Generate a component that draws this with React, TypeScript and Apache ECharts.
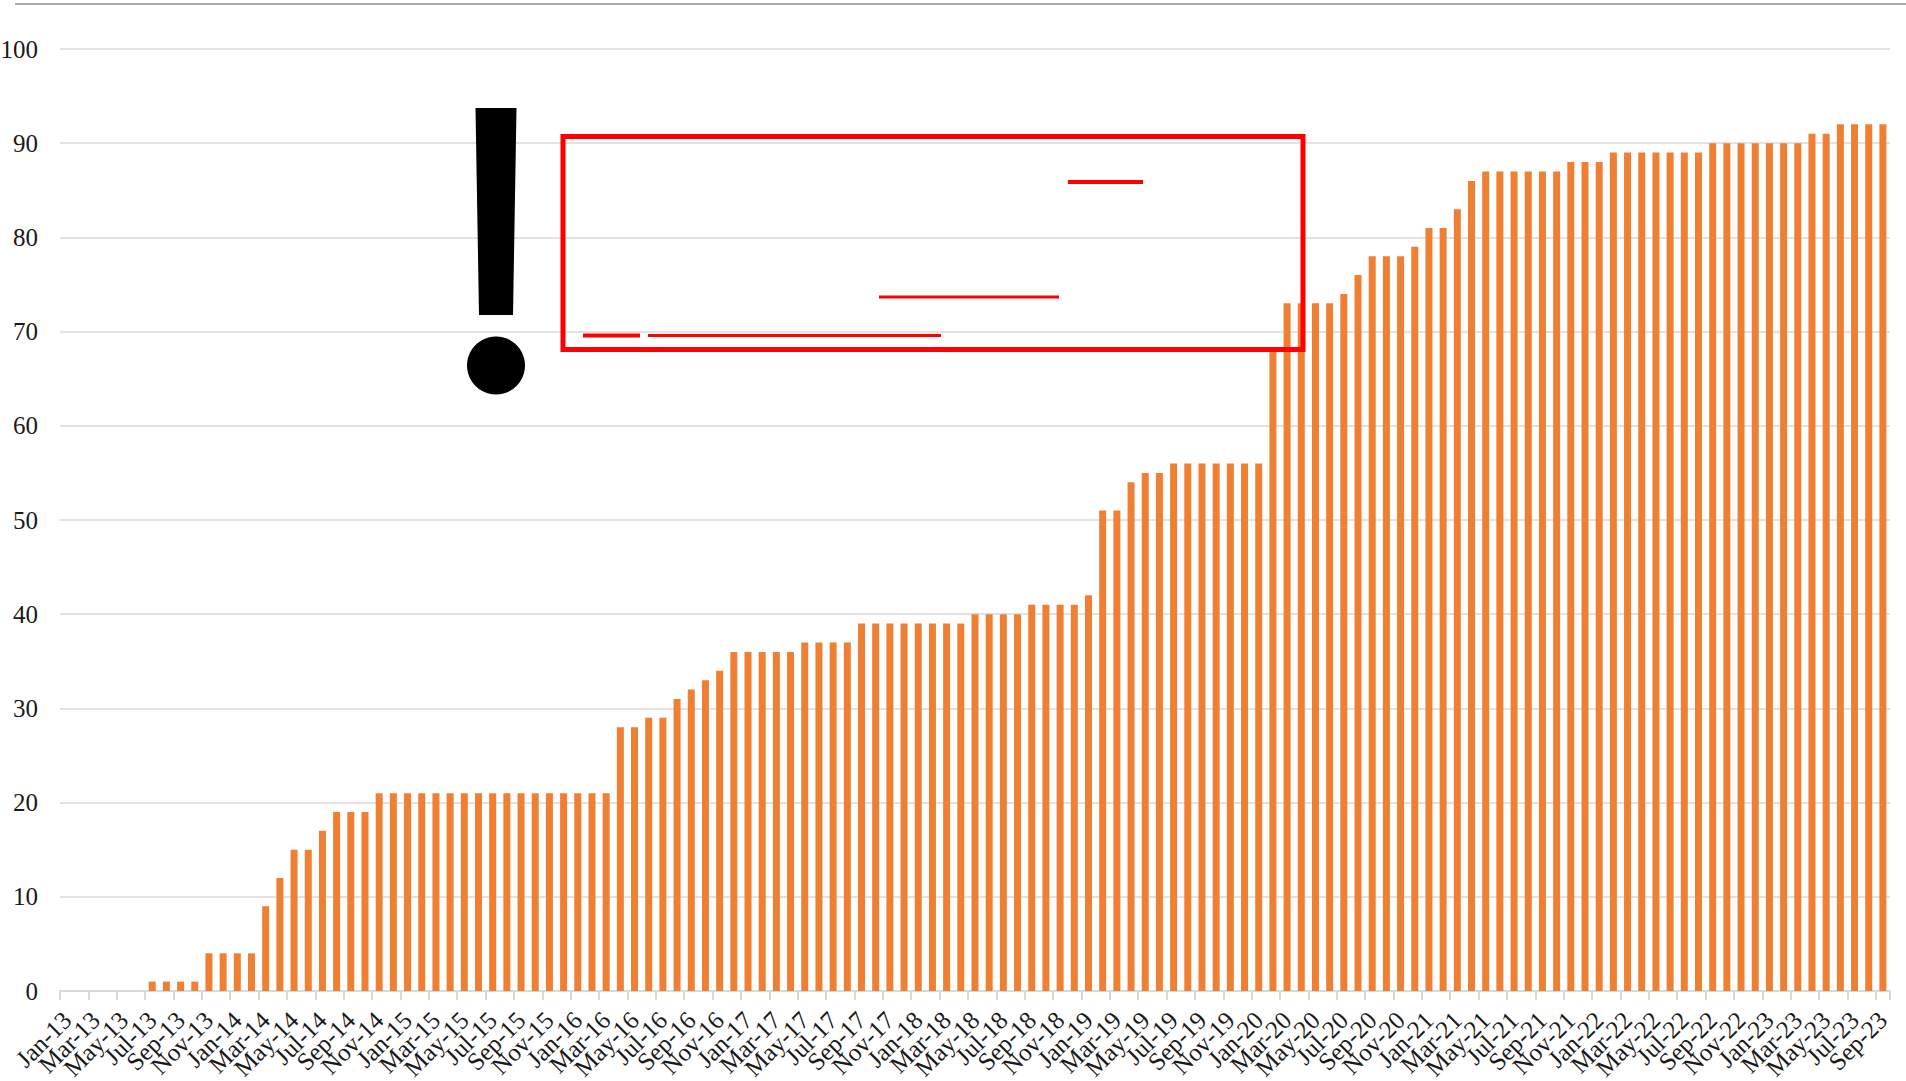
import React, { useEffect, useRef } from "react";
import * as echarts from "echarts";

const categories = [
  "Jan-13","Feb-13","Mar-13","Apr-13","May-13","Jun-13","Jul-13","Aug-13","Sep-13","Oct-13","Nov-13","Dec-13",
  "Jan-14","Feb-14","Mar-14","Apr-14","May-14","Jun-14","Jul-14","Aug-14","Sep-14","Oct-14","Nov-14","Dec-14",
  "Jan-15","Feb-15","Mar-15","Apr-15","May-15","Jun-15","Jul-15","Aug-15","Sep-15","Oct-15","Nov-15","Dec-15",
  "Jan-16","Feb-16","Mar-16","Apr-16","May-16","Jun-16","Jul-16","Aug-16","Sep-16","Oct-16","Nov-16","Dec-16",
  "Jan-17","Feb-17","Mar-17","Apr-17","May-17","Jun-17","Jul-17","Aug-17","Sep-17","Oct-17","Nov-17","Dec-17",
  "Jan-18","Feb-18","Mar-18","Apr-18","May-18","Jun-18","Jul-18","Aug-18","Sep-18","Oct-18","Nov-18","Dec-18",
  "Jan-19","Feb-19","Mar-19","Apr-19","May-19","Jun-19","Jul-19","Aug-19","Sep-19","Oct-19","Nov-19","Dec-19",
  "Jan-20","Feb-20","Mar-20","Apr-20","May-20","Jun-20","Jul-20","Aug-20","Sep-20","Oct-20","Nov-20","Dec-20",
  "Jan-21","Feb-21","Mar-21","Apr-21","May-21","Jun-21","Jul-21","Aug-21","Sep-21","Oct-21","Nov-21","Dec-21",
  "Jan-22","Feb-22","Mar-22","Apr-22","May-22","Jun-22","Jul-22","Aug-22","Sep-22","Oct-22","Nov-22","Dec-22",
  "Jan-23","Feb-23","Mar-23","Apr-23","May-23","Jun-23","Jul-23","Aug-23","Sep-23",
];

const values = [
  0,0,0,0,0,0,1,1,1,1,4,4,
  4,4,9,12,15,15,17,19,19,19,21,21,
  21,21,21,21,21,21,21,21,21,21,21,21,
  21,21,21,28,28,29,29,31,32,33,34,36,
  36,36,36,36,37,37,37,37,39,39,39,39,
  39,39,39,39,40,40,40,40,41,41,41,41,
  42,51,51,54,55,55,56,56,56,56,56,56,
  56,68,73,73,73,73,74,76,78,78,78,79,
  81,81,83,86,87,87,87,87,87,87,88,88,
  88,89,89,89,89,89,89,89,90,90,90,90,
  90,90,90,91,91,92,92,92,92,
];

const FONT = "'Liberation Serif', serif";
const RED = "#ff0000";

export default function App() {
  const ref = useRef<HTMLDivElement>(null);
  useEffect(() => {
    const chart = echarts.init(ref.current!, null, { renderer: "svg" });
    const seg = (x1: number, x2: number, y: number, w: number) => ({
      type: "line",
      z: 100,
      shape: { x1, y1: y, x2, y2: y },
      style: { stroke: RED, lineWidth: w },
    });
    chart.setOption({
      animation: false,
      backgroundColor: "#ffffff",
      grid: { left: 60, right: 16, top: 49, bottom: 90, containLabel: false, outerBoundsMode: "none" },
      xAxis: {
        type: "category",
        data: categories,
        boundaryGap: true,
        axisLine: { lineStyle: { color: "#d9d9d9", width: 2 } },
        axisTick: { show: true, interval: 1, length: 9, alignWithLabel: false, lineStyle: { color: "#d9d9d9", width: 2 } },
        axisLabel: {
          interval: 0,
          rotate: 45,
          margin: 25,
          hideOverlap: false,
          formatter: (value: string, index: number) => (index % 2 === 0 ? value : ""),
          fontFamily: FONT,
          fontSize: 25,
          color: "#1a1a1a",
        },
      },
      yAxis: {
        type: "value",
        min: 0,
        max: 100,
        interval: 10,
        axisLine: { show: false },
        axisTick: { show: false },
        splitLine: { lineStyle: { color: "#d9d9d9", width: 1.5 } },
        axisLabel: { margin: 22, fontFamily: FONT, fontSize: 25, color: "#1a1a1a" },
      },
      series: [
        {
          type: "bar",
          data: values,
          barWidth: 7,
          itemStyle: { color: "#ef7f32" },
        },
      ],
      graphic: [
        { type: "line", z: 100, shape: { x1: 15, y1: 4, x2: 1906, y2: 4 }, style: { stroke: "#8c8c8c", lineWidth: 1.5 } },
        { type: "rect", z: 100, shape: { x: 563, y: 136.5, width: 740, height: 213 }, style: { fill: "transparent", stroke: RED, lineWidth: 5 } },
        seg(583, 640, 335.5, 4),
        seg(648, 941, 335.5, 3),
        seg(879, 1059, 297, 3),
        seg(1068, 1143, 182, 4),
        {
          type: "polygon",
          z: 100,
          shape: { points: [[475.5, 108], [516.5, 108], [513, 315], [479, 315]] },
          style: { fill: "#000000" },
        },
        { type: "circle", z: 100, shape: { cx: 496, cy: 365.5, r: 29 }, style: { fill: "#000000" } },
      ],
    });
    return () => chart.dispose();
  }, []);
  return <div ref={ref} style={{ position: "fixed", left: 0, top: 0, width: 1906, height: 1081 }} />;
}
